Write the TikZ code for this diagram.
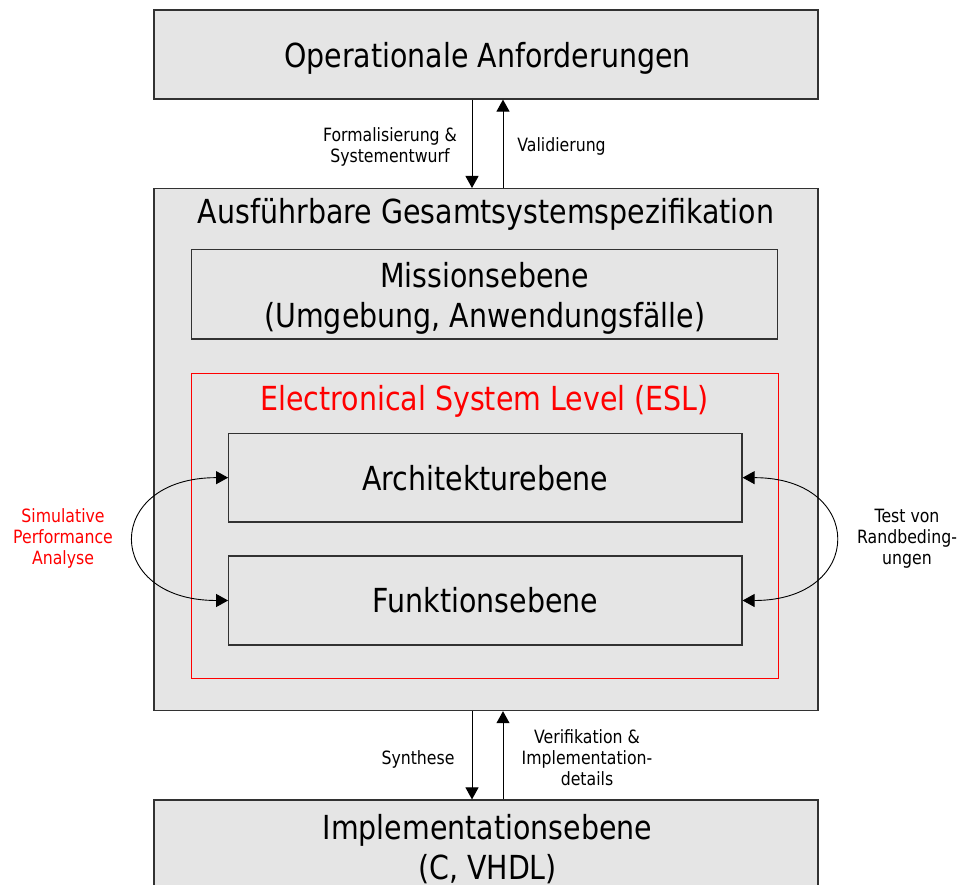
\documentclass[tikz,border=0pt]{standalone}
\usepackage{fontspec}
\setmainfont[FakeStretch=0.86]{DejaVu Sans}
\usetikzlibrary{arrows.meta}
\definecolor{boxfill}{RGB}{229,229,229}
\definecolor{boxline}{RGB}{50,50,50}
\definecolor{eslred}{RGB}{255,0,0}

\begin{document}
\begin{tikzpicture}[x=1pt,y=-1pt,
  box/.style 2 args={draw=boxline, fill=boxfill, line width=1.2pt, inner sep=0pt,
    minimum width=#1, minimum height=#2},
  eslframe/.style 2 args={draw=eslred, line width=0.9pt, inner sep=0pt,
    minimum width=#1, minimum height=#2},
  bigtxt/.style={font=\fontsize{33.1}{39.5}\selectfont, anchor=base, inner sep=0pt, align=center},
  smalltxt/.style={font=\fontsize{18.3}{21}\selectfont, anchor=base, inner sep=0pt, align=center},
  flow/.style={line width=1pt, -{Triangle[length=12pt,width=13pt]}},
  loop/.style={line width=0.9pt, {Triangle[length=12pt,width=13pt]}-{Triangle[length=12pt,width=13pt]}}
]
\useasboundingbox (0,0) rectangle (960,885);

% outer boxes
\node[box={664}{89}] (op) at (486,54.5) {};
\node[box={664}{522}] (sys) at (486,449.6) {};
\node[box={664}{100}] (impl) at (486,850) {};

% inner levels of the executable specification
\node[box={586}{89.7}] (mis) at (484.7,294.2) {};
\node[eslframe={586.6}{305.4}] (esl) at (485,526) {};
\node[box={513.3}{88.7}] (arch) at (485.35,477.65) {};
\node[box={513.3}{89}] (funk) at (485.35,600.5) {};

% box titles (base anchor sits on the last line)
\node[bigtxt] (opt) at (487.5,68) {Operationale Anforderungen};
\node[bigtxt] (syst) at (486,224) {Ausführbare Gesamtsystemspezifikation};
\node[bigtxt] (mist) at (484.7,327) {Missionsebene\\(Umgebung, Anwendungsfälle)};
\node[bigtxt, text=eslred] (eslt) at (484.5,410) {Electronical System Level (ESL)};
\node[bigtxt] (archt) at (485.35,490) {Architekturebene};
\node[bigtxt] (funkt) at (485.5,612.5) {Funktionsebene};
\node[bigtxt] (implt) at (487.5,879) {Implementationsebene\\(C, VHDL)};

% transitions between the levels
\draw[flow] ([xshift=-14pt]op.south) -- ([xshift=-14pt]sys.north);
\draw[flow] ([xshift=17pt]sys.north) -- ([xshift=17pt]op.south);
\draw[flow] ([xshift=-14pt]sys.south) -- ([xshift=-14pt]impl.north);
\draw[flow] ([xshift=17pt]impl.north) -- ([xshift=17pt]sys.south);

\node[smalltxt] (lform) at (390,162.5) {Formalisierung \&\\Systementwurf};
\node[smalltxt] (lval) at (561.5,151.5) {Validierung};
\node[smalltxt] (lsyn) at (418,764.5) {Synthese};
\node[smalltxt] (lver) at (587,785) {Verifikation \&\\Implementation-\\details};

% loops between architecture and function level
\draw[loop] (arch.west) .. controls +(-125,0) and +(-125,0) .. (funk.west);
\draw[loop] (arch.east) .. controls +(123,0) and +(123,0) .. (funk.east);

\node[smalltxt, text=eslred] (lsim) at (63,564.5) {Simulative\\Performance\\Analyse};
\node[smalltxt] (ltest) at (907,564.5) {Test von\\Randbeding-\\ungen};
\end{tikzpicture}
\end{document}
